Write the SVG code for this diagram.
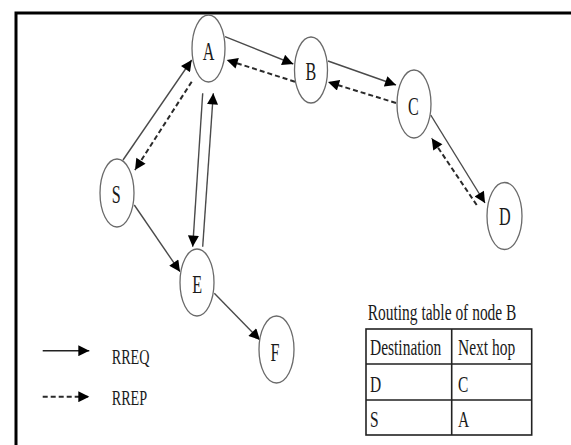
<svg xmlns="http://www.w3.org/2000/svg" width="571" height="445" viewBox="0 0 571 445">
  <style>
    .frame { stroke: #000; stroke-width: 3; fill: none; }
    .node ellipse { fill: #fff; stroke: #6a6a6a; stroke-width: 1.3; }
    .lbl { font-family: "Liberation Serif", "Times New Roman", serif; fill: #1a1a1a; }
    .node text { font-size: 25px; text-anchor: middle; }
    .req { stroke: #4a4a4a; stroke-width: 1.4; fill: none; marker-end: url(#head); }
    .rep { stroke: #2a2a2a; stroke-width: 2; stroke-dasharray: 5 3; fill: none; marker-end: url(#head); }
    .tbl { stroke: #222; stroke-width: 1.6; fill: none; }
    .cell { font-size: 24px; }
    .key { font-size: 22px; }
  </style>
  <defs>
    <marker id="head" viewBox="0 0 10 10" refX="10" refY="5" markerWidth="12" markerHeight="11" markerUnits="userSpaceOnUse" orient="auto">
      <path d="M0,0 L10,5 L0,10 z" fill="#000"/>
    </marker>
  </defs>

  <rect width="571" height="445" fill="#fff"/>
  <!-- outer frame: top and left edges -->
  <path class="frame" d="M16,445 L16,13 L571,13"/>

  <!-- connectors -->
  <g id="connectors">
    <path class="req" d="M123,160 L191.7,60"/>
    <path class="rep" d="M191.7,81.7 L135,170"/>
    <path class="req" d="M225,36.7 L293.3,64"/>
    <path class="rep" d="M295,81.7 L226.7,60"/>
    <path class="req" d="M328,61 L396,85"/>
    <path class="rep" d="M396,103 L328,82"/>
    <path class="req" d="M430.7,115 L485,203"/>
    <path class="rep" d="M476.7,205 L431.7,138.3"/>
    <path class="req" d="M202.7,93.3 L192.7,246.7"/>
    <path class="req" d="M202.7,246.7 L213.3,93.3"/>
    <path class="req" d="M134.3,205 L180,271.7"/>
    <path class="req" d="M214.3,293.3 L260,340"/>
  </g>

  <!-- nodes (labels condensed horizontally) -->
  <g id="node-A" class="node"><ellipse cx="208.5" cy="48.5" rx="16.5" ry="33.5"/><text class="lbl" transform="translate(208.5,60) scale(0.645,1)">A</text></g>
  <g id="node-B" class="node"><ellipse cx="311" cy="70" rx="16.5" ry="33"/><text class="lbl" transform="translate(311,80) scale(0.645,1)">B</text></g>
  <g id="node-C" class="node"><ellipse cx="414" cy="104" rx="17" ry="34"/><text class="lbl" transform="translate(413.5,115) scale(0.645,1)">C</text></g>
  <g id="node-D" class="node"><ellipse cx="504.5" cy="216" rx="17.5" ry="33.5"/><text class="lbl" transform="translate(504.8,225) scale(0.645,1)">D</text></g>
  <g id="node-S" class="node"><ellipse cx="117" cy="193" rx="17" ry="34"/><text class="lbl" transform="translate(116.2,203) scale(0.645,1)">S</text></g>
  <g id="node-E" class="node"><ellipse cx="197" cy="282.5" rx="17" ry="33.5"/><text class="lbl" transform="translate(197.2,293.3) scale(0.645,1)">E</text></g>
  <g id="node-F" class="node"><ellipse cx="276.5" cy="349.5" rx="17.5" ry="33.5"/><text class="lbl" transform="translate(275,360.7) scale(0.645,1)">F</text></g>

  <!-- legend -->
  <g id="legend">
    <path class="req" style="stroke:#222" d="M42.7,350.7 L89.3,350.7"/>
    <text class="lbl key" transform="translate(111.7,364) scale(0.645,1)">RREQ</text>
    <path class="rep" d="M42.7,396.7 L89.3,396.7"/>
    <text class="lbl key" transform="translate(111.7,405) scale(0.645,1)">RREP</text>
  </g>

  <!-- routing table of node B -->
  <g id="routing-table">
    <text class="lbl cell" transform="translate(367.7,320) scale(0.645,1)">Routing table of node B</text>
    <rect class="tbl" x="366" y="329" width="165.7" height="106"/>
    <path class="tbl" d="M366,364 H531.7 M366,400 H531.7 M451.7,329 V435"/>
    <text class="lbl cell" transform="translate(370,355) scale(0.645,1)">Destination</text>
    <text class="lbl cell" transform="translate(458,355) scale(0.645,1)">Next hop</text>
    <text class="lbl cell" transform="translate(370,391.7) scale(0.645,1)">D</text>
    <text class="lbl cell" transform="translate(458,391.7) scale(0.645,1)">C</text>
    <text class="lbl cell" transform="translate(370,426.7) scale(0.645,1)">S</text>
    <text class="lbl cell" transform="translate(458,426.7) scale(0.645,1)">A</text>
  </g>
</svg>
